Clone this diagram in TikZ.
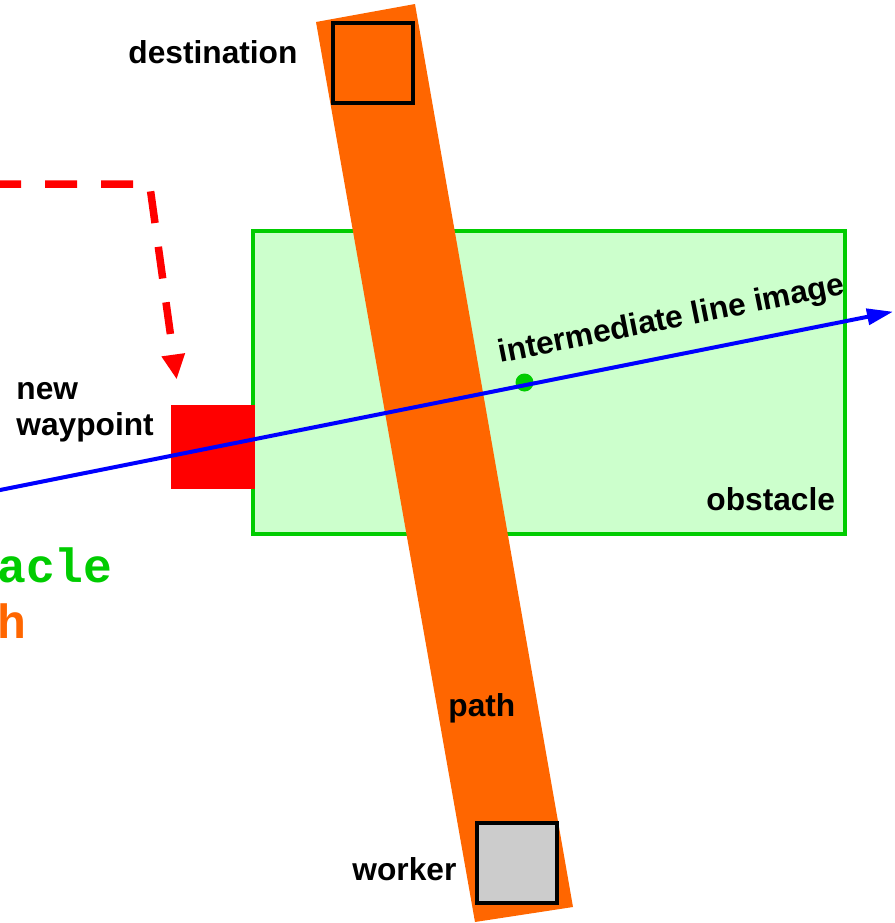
\documentclass[tikz,border=0pt]{standalone}
\usepackage{fontspec}
\setmainfont{Liberation Sans}
\setmonofont{Liberation Mono}
\usetikzlibrary{arrows.meta}
\definecolor{pathorange}{HTML}{FF6600}
\definecolor{obstacleline}{HTML}{00CC00}
\definecolor{obstaclefill}{HTML}{CCFFCC}
\definecolor{workergray}{HTML}{CCCCCC}
\definecolor{waypointred}{HTML}{FF0000}
\definecolor{lineblue}{HTML}{0000FF}
\begin{document}
\begin{tikzpicture}[x=0.5pt,y=-0.5pt,
  lbl/.style={font=\fontsize{15.85}{18}\selectfont\bfseries, inner sep=0pt, anchor=base west},
  codelbl/.style={font=\ttfamily\bfseries\fontsize{24}{28}\selectfont, inner sep=0pt, anchor=base west},
  endbox/.style={draw=black, line width=2pt, minimum size=40pt, inner sep=0pt},
  ]
\useasboundingbox (0,0) rectangle (895,923);
\clip (0,0) rectangle (895,923);

% obstacle region
\draw[draw=obstacleline, fill=obstaclefill, line width=2pt] (253,231) rectangle (845,534);

% planned path band from worker to destination
\fill[pathorange] (316,22) -- (415,4) -- (573,907) -- (475,922) -- cycle;

% new waypoint
\node[fill=waypointred, minimum size=42pt, inner sep=0pt] (waypoint) at (213,447) {};

% endpoints of the path
\node[endbox, fill=pathorange] (dest) at (373,62.5) {};
\node[endbox, fill=workergray] (worker) at (517,862.5) {};

% image point on the intermediate line
\node[circle, fill=obstacleline, minimum size=9pt, inner sep=0pt] (imgpt) at (524.5,382.5) {};

% intermediate line
\coordinate (lineStart) at (-2,490.4);
\coordinate (lineEnd) at (893,311.7);
\draw[lineblue, line width=2pt, -{Triangle[length=13pt,width=8pt]}] (lineStart) -- (lineEnd);

% detour towards the new waypoint
\coordinate (detourStart) at (-11,184);
\coordinate (detourCorner) at (149.6,184);
\coordinate (detourEnd) at (176.7,379.5);
\draw[waypointred, line width=3.75pt, dash pattern=on 16pt off 12pt,
  -{Triangle[length=12.5pt,width=11pt]}] (detourStart) -- (detourCorner) -- (detourEnd);

% labels
\node[lbl] (destLbl) at (128,63) {destination};
\node[lbl] (newLbl) at (16,399) {new};
\node[lbl] (wayLbl) at (16,435) {waypoint};
\node[lbl] (obstLbl) at (706,510) {obstacle};
\node[lbl] (pathLbl) at (448,716) {path};
\node[lbl] (workLbl) at (352,880) {worker};
\node[lbl, rotate=11.3] (lineLbl) at (500,363) {intermediate line image};

% legend text running off the left edge
\node[codelbl, text=obstacleline] (legObst) at (-3,582) {acle};
\node[codelbl, text=pathorange] (legPath) at (-3,638) {h};
\end{tikzpicture}
\end{document}
